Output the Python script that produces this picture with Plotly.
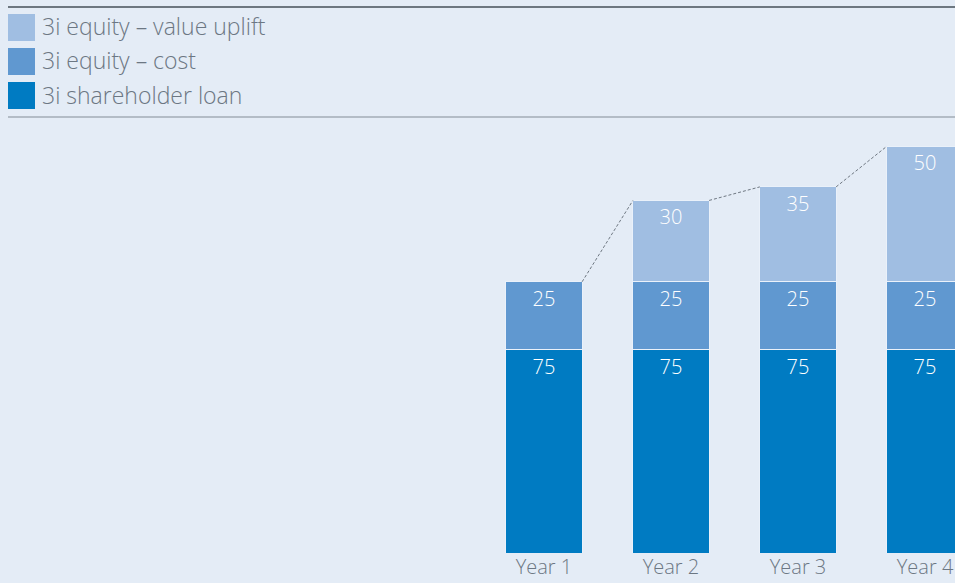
import plotly.graph_objects as go

categories = ["Year 1", "Year 2", "Year 3", "Year 4"]
shareholder_loan = [75, 75, 75, 75]
equity_cost = [25, 25, 25, 25]
equity_uplift = [0, 30, 35, 50]
uplift_labels = ["", "30", "35", "50"]

series_names = ["3i equity – value uplift", "3i equity – cost", "3i shareholder loan"]
colors = {"uplift": "#a0bee2", "cost": "#6098d0", "loan": "#007bc2"}
BG = "#e4ecf6"
TEXT_GREY = "#6c7783"
FONT = "Open Sans"

W, H = 955, 583
MB = 30
PH = H - MB  # plot area height in px

x = list(range(len(categories)))
fig = go.Figure()

def add_bar(vals, labels, color):
    fig.add_trace(go.Bar(
        x=x, y=vals, text=labels, textposition="inside", insidetextanchor="end",
        textangle=0, constraintext="none",
        textfont=dict(color="white", size=20, family=FONT, weight=300),
        marker=dict(color=color, line=dict(color="#eaf1fa", width=1)),
        width=0.6, showlegend=False, hoverinfo="skip"))

add_bar(shareholder_loan, [str(v) for v in shareholder_loan], colors["loan"])
add_bar(equity_cost, [str(v) for v in equity_cost], colors["cost"])
add_bar(equity_uplift, uplift_labels, colors["uplift"])

# dashed connectors between bar tops
totals = [a + b + c for a, b, c in zip(shareholder_loan, equity_cost, equity_uplift)]
lx, ly = [], []
for i in range(len(totals) - 1):
    lx += [x[i] + 0.3, x[i + 1] - 0.3, None]
    ly += [totals[i], totals[i + 1], None]
fig.add_trace(go.Scatter(x=lx, y=ly, mode="lines", showlegend=False, hoverinfo="skip",
                         line=dict(color="#6f7882", width=1, dash="3px,2px")))

def px_x(p):
    return p / W

def px_y(p):
    return 1 - p / PH

shapes = [
    dict(type="line", xref="paper", yref="paper", x0=px_x(8), x1=px_x(955), y0=px_y(7), y1=px_y(7),
         line=dict(color="#6d7780", width=2)),
    dict(type="line", xref="paper", yref="paper", x0=px_x(8), x1=px_x(955), y0=px_y(117), y1=px_y(117),
         line=dict(color="#b3bcc6", width=2)),
]
annotations = []
sq_colors = [colors["uplift"], colors["cost"], colors["loan"]]
for i, (name, c) in enumerate(zip(series_names, sq_colors)):
    top = 14 + 34 * i
    shapes.append(dict(type="rect", xref="paper", yref="paper", x0=px_x(8), x1=px_x(35),
                       y0=px_y(top + 27), y1=px_y(top), fillcolor=c, line=dict(width=0)))
    annotations.append(dict(text=name, xref="paper", yref="paper", x=px_x(40), y=px_y(top + 12.5),
                            xanchor="left", yanchor="middle", showarrow=False,
                            font=dict(size=23, color=TEXT_GREY, family=FONT, weight=300)))

fig.update_layout(
    width=W, height=H, barmode="stack",
    margin=dict(l=0, r=0, t=0, b=MB, pad=0, autoexpand=False),
    paper_bgcolor=BG, plot_bgcolor=BG,
    shapes=shapes, annotations=annotations,
    xaxis=dict(range=[-4.283, 3.236], tickvals=x, ticktext=categories, showgrid=False,
               zeroline=False, showline=False, ticks="", ticklabelstandoff=0,
               automargin=False,
               tickfont=dict(size=20, color=TEXT_GREY, family=FONT, weight=300)),
    yaxis=dict(range=[0, PH / 2.712], visible=False, showgrid=False, zeroline=False,
               automargin=False),
)

fig.write_html("out.html", config={"displayModeBar": False},
               post_script="document.body.style.margin='0';document.body.style.background='" + BG + "';")
